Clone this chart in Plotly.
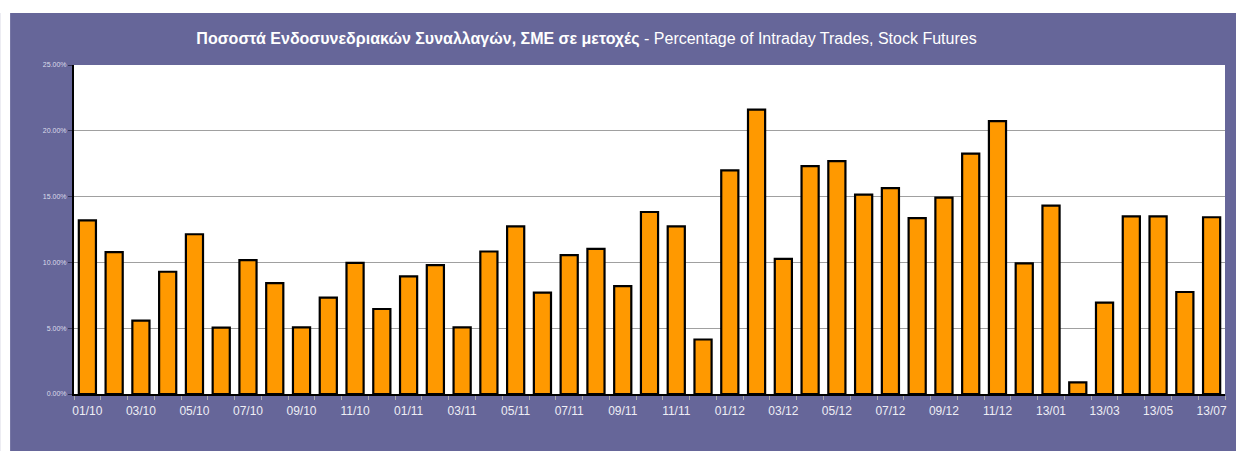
import plotly.graph_objects as go

years = ["10", "11", "12", "13"]
categories = []
for yy in years:
    for mm in range(1, 13):
        categories.append(f"{yy}/{mm:02d}")
# data runs Jan 2010 .. Jul 2013
categories = categories[:43]
# labels shown as MM/YY for 2010-2012 and YY/MM for 2013 (as in the source)
display_labels = ([f"{c.split('/')[1]}/{c.split('/')[0]}" for c in categories[:36]]
                  + categories[36:])

values = [13.20, 10.78, 5.58, 9.29, 12.14, 5.05, 10.17, 8.43, 5.07, 7.32,
          9.97, 6.46, 8.94, 9.80, 5.07, 10.83, 12.73, 7.70, 10.55, 11.03,
          8.20, 13.83, 12.73, 4.14, 16.99, 21.61, 10.27, 17.32, 17.70, 15.15,
          15.65, 13.36, 14.92, 18.26, 20.73, 9.92, 14.32, 0.88, 6.94, 13.50,
          13.50, 7.75, 13.43]

y_ticks = [0, 5, 10, 15, 20, 25]
y_tick_text = [f"{v:.2f}%" for v in y_ticks]

tick_text = [lab if i % 2 == 0 else "" for i, lab in enumerate(display_labels)]

PURPLE = "#666699"
W, H = 1236, 451
L, R, T, B = 74, 9, 65, 57
PW, PH = W - L - R, H - T - B

fig = go.Figure()
fig.add_trace(go.Bar(
    x=display_labels, y=values,
    marker=dict(color="#FF9900", line=dict(color="black", width=2.2)),
    width=0.64,
    hoverinfo="skip",
))

fig.update_layout(
    width=W, height=H,
    margin=dict(l=L, r=R, t=T, b=B),
    paper_bgcolor=PURPLE,
    plot_bgcolor="white",
    showlegend=False,
    title=dict(
        text="<b>Ποσοστά Ενδοσυνεδριακών Συναλλαγών, ΣΜΕ σε μετοχές</b> - Percentage of Intraday Trades, Stock Futures",
        font=dict(family="Liberation Sans Narrow, Arial Narrow, Liberation Sans, Arial", size=16, color="white"),
        xref="container", x=586.5 / W, xanchor="center",
        yref="container", y=1 - 38 / H, yanchor="middle",
    ),
    xaxis=dict(
        type="category",
        tickmode="array", tickvals=display_labels, ticktext=tick_text,
        tickangle=0,
        tickson="boundaries", ticks="outside", ticklen=4, tickcolor="#aaaaaa",
        ticklabelstandoff=5,
        tickfont=dict(family="Liberation Sans, Arial", size=12, color="#eeeef5"),
        showline=True, linecolor="black", linewidth=2,
        showgrid=False, zeroline=False,
    ),
    yaxis=dict(
        range=[0, 25], tickmode="array", tickvals=y_ticks, ticktext=y_tick_text,
        tickfont=dict(family="Liberation Sans, Arial", size=7, color="#ddddea"),
        ticks="outside", ticklen=4, tickcolor="#333355",
        showline=True, linecolor="black", linewidth=2,
        showgrid=True, gridcolor="#a0a0a0", gridwidth=1,
        zeroline=False,
    ),
    shapes=[
        # white margin strips outside the purple panel
        dict(type="rect", xref="paper", yref="paper", layer="above",
             x0=-L / PW, x1=(10 - L) / PW, y0=-1, y1=2,
             fillcolor="white", line=dict(width=0)),
        dict(type="rect", xref="paper", yref="paper", layer="above",
             x0=-1, x1=2, y0=1 + (T - 13) / PH, y1=1 + (T + 5) / PH,
             fillcolor="white", line=dict(width=0)),
    ],
)

fig.write_html(
    "out.html",
    config={"displayModeBar": False},
    post_script="document.body.style.margin='0';document.body.style.overflow='hidden';",
)
